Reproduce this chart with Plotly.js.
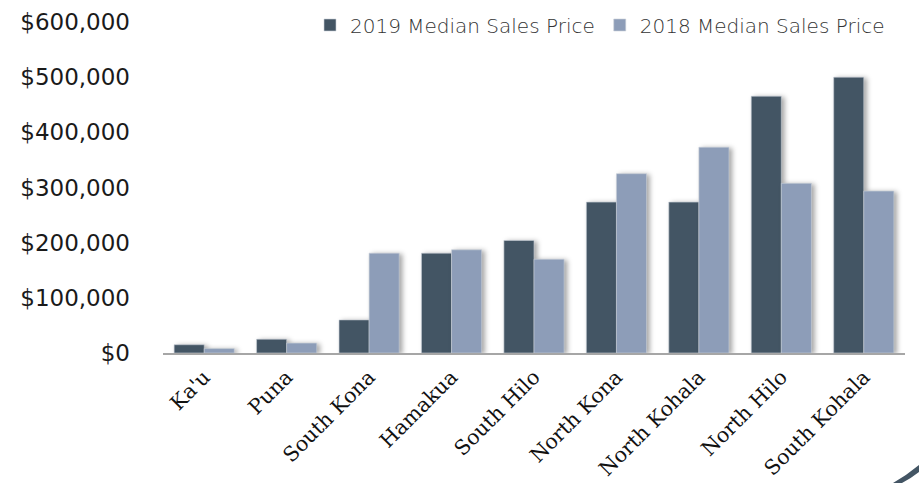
<!DOCTYPE html>
<html>
<head>
<meta charset="utf-8">
<script src="https://cdn.plot.ly/plotly-3.0.1.min.js"></script>
<style>
  html, body { margin: 0; padding: 0; background: #ffffff; }
  #chart { width: 919px; height: 483px; }
  #chart .barlayer .point path { filter: drop-shadow(3px 1px 2.5px rgba(0,0,0,0.35)); }
</style>
</head>
<body>
<div id="chart"></div>
<script>
const districts = ["Ka'u", "Puna", "South Kona", "Hamakua", "South Hilo", "North Kona", "North Kohala", "North Hilo", "South Kohala"];
const median2019 = [15000, 25000, 60000, 181000, 204000, 273500, 273500, 465500, 500000];
const median2018 = [8000, 18000, 181000, 187000, 170000, 325000, 373000, 307500, 293500];
const yTickValues = [0, 100000, 200000, 300000, 400000, 500000, 600000];
const yTickLabels = ["$0", "$100,000", "$200,000", "$300,000", "$400,000", "$500,000", "$600,000"];

const W = 919, H = 483;
const M = { l: 163, r: 14, t: 2, b: 130 };
const pw = W - M.l - M.r, ph = H - M.t - M.b;
// pixel row of the $600,000 tick in the reference: 22 -> extend range so plot top sits at M.t
const yMax = 600000 * ph / (H - M.b - 22);
function px(x) { return (x - M.l) / pw; }
function py(y) { return (H - M.b - y) / ph; }

const traces = [
  { type: 'bar', name: '2019 Median Sales Price', x: districts, y: median2019,
    marker: { color: '#435564', line: { color: '#c9d0d8', width: 0.6 } }, hoverinfo: 'x+y' },
  { type: 'bar', name: '2018 Median Sales Price', x: districts, y: median2018,
    marker: { color: '#8d9db8', line: { color: '#c9d0d8', width: 0.6 } }, hoverinfo: 'x+y' }
];

const arc = 'M ' + px(893) + ' ' + py(483) +
  ' Q ' + px(907) + ' ' + py(475) + ' ' + px(919) + ' ' + py(465) +
  ' L ' + px(919) + ' ' + py(472) +
  ' Q ' + px(910) + ' ' + py(479) + ' ' + px(902) + ' ' + py(483) + ' Z';

const layout = {
  width: W, height: H,
  margin: M,
  paper_bgcolor: '#ffffff', plot_bgcolor: '#ffffff',
  barmode: 'group', bargap: 0.27, bargroupgap: 0,
  showlegend: true,
  legend: {
    orientation: 'h', x: px(890), xanchor: 'right', y: py(25), yanchor: 'middle',
    font: { family: '"DejaVu Sans", sans-serif', size: 20, color: '#333333', weight: 200 },
    traceorder: 'normal', itemwidth: 30, bgcolor: 'rgba(0,0,0,0)'
  },
  xaxis: {
    type: 'category', tickangle: -45, ticks: '', showgrid: false,
    showline: true, linecolor: '#a6a6a6', linewidth: 2, zeroline: false,
    tickfont: { family: '"DejaVu Serif", serif', size: 20.5, color: '#111111' },
    ticklabelstandoff: 2
  },
  yaxis: {
    range: [0, yMax], tickvals: yTickValues, ticktext: yTickLabels,
    showgrid: false, zeroline: false, showline: false, ticks: '',
    tickfont: { family: '"DejaVu Sans", sans-serif', size: 23, color: '#1a1a1a' },
    ticklabelstandoff: 32
  },
  shapes: [
    { type: 'path', xref: 'paper', yref: 'paper', path: arc,
      fillcolor: '#435564', line: { width: 0 }, layer: 'above' }
  ]
};

Plotly.newPlot('chart', traces, layout, { displayModeBar: false, staticPlot: true });
</script>
</body>
</html>
